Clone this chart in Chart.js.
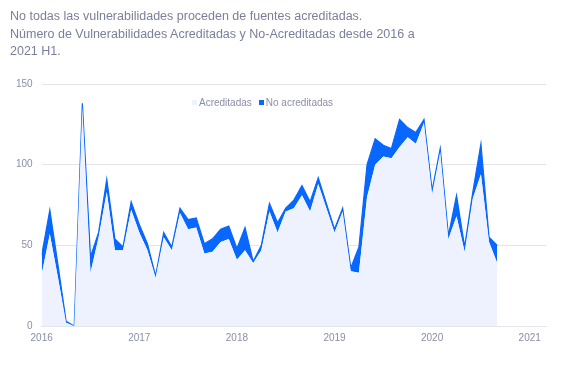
<!DOCTYPE html>
<html>
<head>
<meta charset="utf-8">
<script src="https://cdn.jsdelivr.net/npm/chart.js@4/dist/chart.umd.min.js"></script>
<style>
  html, body { margin: 0; padding: 0; background: #fff; }
  #wrap { position: relative; width: 567px; height: 369px; }
  #title {
    position: absolute; left: 10px; top: 8px;
    font-family: "Liberation Sans", Arial, sans-serif;
    font-size: 12.5px; line-height: 17.5px; color: #7b7f99;
  }
  #legend {
    position: absolute; left: 192px; top: 97px;
    display: flex; align-items: center;
    font-family: "Liberation Sans", Arial, sans-serif;
    font-size: 10px; color: #8a8ea8;
  }
  #legend span.box { display: inline-block; width: 5px; height: 5px; margin-right: 2px; }
  #legend span.item { display: inline-flex; align-items: center; margin-right: 7px; }
  canvas { position: absolute; left: 0; top: 0; }
</style>
</head>
<body>
<div id="wrap">
  <canvas id="myChart" width="567" height="369"></canvas>
  <div id="title">No todas las vulnerabilidades proceden de fuentes acreditadas.<br>Número de Vulnerabilidades Acreditadas y No-Acreditadas desde 2016 a<br>2021 H1.</div>
  <div id="legend"></div>
</div>
<script>
// monthly values, Jan 2016 .. Sep 2020
const startYear = 2016;
const seriesNames = ["Acreditadas", "No acreditadas"];
const acreditadas = [32, 57, 30, 2, 0, 136, 33, 55, 83, 47, 47, 72,
    58, 47, 30, 55, 47, 70, 60, 61, 45, 46, 52, 54,
    41, 47, 39, 47, 71, 58, 71, 73, 81, 71, 88, 73,
    58, 71, 34, 33, 80, 100, 105, 104, 111, 117, 113, 126,
    82, 108, 54, 68, 46, 79, 94, 52, 39];
const noAcreditadas = [12, 15, 8, 1, 0, 2, 10, 3, 8, 7, 2, 5,
    5, 4, 1, 3, 2, 3, 6, 6, 6, 8, 8, 8,
    7, 14, 1, 3, 5, 6, 2, 5, 6, 6, 4, 3,
    2, 2, 2, 16, 20, 16, 7, 6, 17, 6, 7, 2,
    2, 2, 2, 13, 3, 4, 19, 3, 11];
const yTicks = [0, 50, 100, 150];
const yearTicks = [0, 12, 24, 36, 48, 60]; // month index of each January

const toPoints = (arr) => arr.map((v, i) => ({ x: i, y: v }));

const data = {
    datasets: [{
        label: seriesNames[0],
        data: toPoints(acreditadas),
        backgroundColor: '#eef2fe',
        borderColor: '#eef2fe',
        borderWidth: 0,
        pointRadius: 0,
        fill: 'origin',
        tension: 0
    }, {
        label: seriesNames[1],
        data: toPoints(noAcreditadas),
        backgroundColor: '#0767fe',
        borderColor: '#0767fe',
        borderWidth: 1.2,
        pointRadius: 0,
        fill: '-1',
        tension: 0
    }]
};

const tickColor = '#8a8ea8';
const tickFont = { family: 'Liberation Sans, Arial, sans-serif', size: 10 };

const config = {
    type: 'line',
    data: data,
    options: {
        responsive: false,
        animation: false,
        layout: { padding: { top: 84, right: 21, bottom: 19, left: 7 } },
        plugins: {
            legend: { display: false },
            tooltip: { enabled: false }
        },
        scales: {
            x: {
                type: 'linear',
                min: 0, max: 62,
                afterBuildTicks: (axis) => { axis.ticks = yearTicks.map(v => ({ value: v })); },
                grid: { display: false, drawTicks: false },
                border: { display: true, color: '#e4e5ea' },
                ticks: {
                    color: tickColor,
                    padding: 6,
                    maxRotation: 0,
                    autoSkip: false,
                    font: tickFont,
                    callback: (v) => String(startYear + v / 12)
                }
            },
            y: {
                stacked: true,
                min: 0, max: 150,
                afterBuildTicks: (axis) => { axis.ticks = yTicks.map(v => ({ value: v })); },
                grid: { color: '#e4e5ea', drawTicks: false },
                border: { display: false },
                ticks: {
                    color: tickColor,
                    padding: 9,
                    font: tickFont
                }
            }
        }
    }
};

const myChart = new Chart(document.getElementById('myChart'), config);

// html legend from the datasets
const legendEl = document.getElementById('legend');
legendEl.innerHTML = myChart.data.datasets.map(ds =>
    `<span class="item"><span class="box" style="background:${ds.backgroundColor}"></span>${ds.label}</span>`
).join('');
</script>
</body>
</html>
